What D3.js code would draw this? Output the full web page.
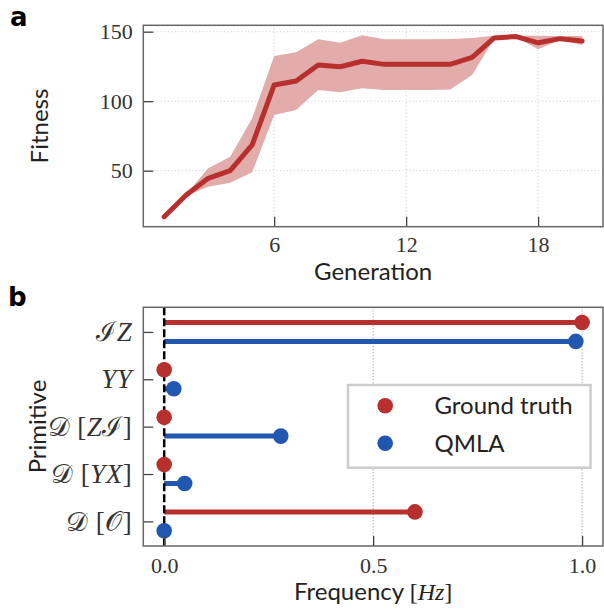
<!DOCTYPE html>
<html>
<head>
<meta charset="utf-8">
<script src="https://cdn.jsdelivr.net/npm/d3@7"></script>
<style>
  body { margin: 0; background: #fff; }
  .tick text { font-family: "Liberation Serif", serif; font-size: 22px; fill: #333; }
  .math .tick text { font-size: 27px; letter-spacing: 0.5px; }
  .lab { font-family: Lato, sans-serif; font-size: 24px; fill: #222; }
  .panel { font-family: "DejaVu Sans", sans-serif; font-weight: bold; font-size: 26px; fill: #000; }
</style>
</head>
<body>
<svg id="chart" width="604" height="608"></svg>
<script>
// panel a : fitness per generation
const generations = d3.range(1, 21);
const fitnessMean = [16.9, 32.5, 44.5, 50, 68.5, 111.7, 114.5, 126, 124.8, 128.7, 126.5, 126.5, 126.5, 126.5, 131.6, 145.5, 146.5, 142, 145, 143.3];
const fitnessUpper = [16.9, 33, 51.7, 60, 87.7, 132.5, 135.2, 144.5, 142, 147.4, 144.5, 144.5, 144.5, 144.7, 145.5, 147, 147.2, 147, 146.8, 147];
const fitnessLower = [16.9, 32, 38.5, 41.4, 48.8, 90, 93.7, 108, 106.4, 109.3, 108, 108, 108, 108.5, 118.8, 145, 146, 137.3, 144.1, 140.4];
const genTicks = [6, 12, 18];
const fitTicks = [50, 100, 150];

// panel b : primitive frequencies
const primitives = ['IZ', 'YY', 'D[ZI]', 'D[YX]', 'D[O]'];
const groundTruth = [1.0, 0, 0, 0, 0.6];
const qmla = [0.985, 0.023, 0.279, 0.049, 0];
const freqTicks = [0, 0.5, 1.0];

const red = '#b8302d', band = '#e2acab', blue = '#2157b0';
const svg = d3.select('#chart');

const L = 143.3, R = 603;

// ---------- panel a ----------
const ax = { top: 25.3, bottom: 226.7 };
const x = d3.scaleLinear().domain([0.05, 20.95]).range([L, R]);
const y = d3.scaleLinear().domain([9.7, 154.6]).range([ax.bottom, ax.top]);
const ga = svg.append('g');

ga.selectAll('.hg').data(fitTicks).join('line')
    .attr('x1', L).attr('x2', R)
    .attr('y1', d => y(d)).attr('y2', d => y(d))
    .attr('stroke', '#c8c8c8').attr('stroke-width', 1).attr('stroke-dasharray', '1,2.5');
ga.selectAll('.vg').data(genTicks).join('line')
    .attr('x1', d => x(d)).attr('x2', d => x(d))
    .attr('y1', ax.top).attr('y2', ax.bottom)
    .attr('stroke', '#c8c8c8').attr('stroke-width', 1).attr('stroke-dasharray', '1,2.5');

const rows = generations.map((g, i) => ({g: g, m: fitnessMean[i], lo: fitnessLower[i], hi: fitnessUpper[i]}));
ga.append('path').datum(rows)
    .attr('fill', band)
    .attr('d', d3.area().x(d => x(d.g)).y0(d => y(d.lo)).y1(d => y(d.hi)));
ga.append('path').datum(rows)
    .attr('fill', 'none').attr('stroke', red).attr('stroke-width', 5)
    .attr('stroke-linecap', 'round').attr('stroke-linejoin', 'round')
    .attr('d', d3.line().x(d => x(d.g)).y(d => y(d.m)));

ga.append('g').attr('transform', `translate(0,${ax.bottom})`)
    .call(d3.axisBottom(x).tickValues(genTicks).tickSize(-10).tickPadding(10).tickFormat(d3.format('d')))
    .call(g => g.select('.domain').remove())
    .call(g => g.selectAll('.tick line').attr('stroke', '#444').attr('stroke-width', 1.3));
ga.append('g').attr('transform', `translate(${L},0)`)
    .call(d3.axisLeft(y).tickValues(fitTicks).tickSize(-10).tickPadding(10.5))
    .call(g => g.select('.domain').remove())
    .call(g => g.selectAll('.tick line').attr('stroke', '#444').attr('stroke-width', 1.3));

ga.append('rect').attr('x', L).attr('y', ax.top).attr('width', R - L).attr('height', ax.bottom - ax.top)
    .attr('fill', 'none').attr('stroke', '#666').attr('stroke-width', 1.5);

ga.append('text').attr('class', 'lab').attr('x', (L + R) / 2).attr('y', 280)
    .attr('text-anchor', 'middle').text('Generation');
ga.append('text').attr('class', 'lab').attr('transform', 'translate(48,126) rotate(-90)')
    .attr('text-anchor', 'middle').text('Fitness');
svg.append('text').attr('class', 'panel').attr('x', 10).attr('y', 26).text('a');

// ---------- panel b ----------
const bx = { top: 307.3, bottom: 546 };
const x2 = d3.scaleLinear().domain([-0.05, 1.05]).range([L, R]);
const y2 = d3.scaleLinear().domain([-0.52, 4.52]).range([bx.top, bx.bottom]);
const gb = svg.append('g');

gb.selectAll('.vg').data(freqTicks.slice(1)).join('line')
    .attr('x1', d => x2(d)).attr('x2', d => x2(d))
    .attr('y1', bx.top).attr('y2', bx.bottom)
    .attr('stroke', '#888').attr('stroke-width', 1).attr('stroke-dasharray', '1,2');

const series = [
  {name: 'Ground truth', vals: groundTruth, color: red, off: -0.2},
  {name: 'QMLA', vals: qmla, color: blue, off: 0.2}
];
series.forEach(s => {
  gb.selectAll(null).data(s.vals).join('line')
      .attr('x1', x2(0)).attr('x2', d => x2(d))
      .attr('y1', (d, i) => y2(i + s.off)).attr('y2', (d, i) => y2(i + s.off))
      .attr('stroke', s.color).attr('stroke-width', 5);
});
gb.append('line').attr('x1', x2(0)).attr('x2', x2(0)).attr('y1', bx.top).attr('y2', bx.bottom)
    .attr('stroke', '#000').attr('stroke-width', 2.5).attr('stroke-dasharray', '8,3');
series.forEach(s => {
  gb.selectAll(null).data(s.vals).join('circle')
      .attr('cx', d => x2(d)).attr('cy', (d, i) => y2(i + s.off))
      .attr('r', 7.8).attr('fill', s.color);
});

gb.append('g').attr('transform', `translate(0,${bx.bottom})`)
    .call(d3.axisBottom(x2).tickValues(freqTicks).tickSize(-10).tickPadding(11).tickFormat(d3.format('.1f')))
    .call(g => g.select('.domain').remove())
    .call(g => g.selectAll('.tick line').attr('stroke', '#444').attr('stroke-width', 1.3));
const yAxis = gb.append('g').attr('class', 'math').attr('transform', `translate(${L},0)`)
    .call(d3.axisLeft(y2).tickValues(d3.range(primitives.length)).tickSize(-10).tickPadding(11).tickFormat(() => ''))
    .call(g => g.select('.domain').remove())
    .call(g => g.selectAll('.tick line').attr('stroke', '#444').attr('stroke-width', 1.3));

// math style tick labels: [text, style] pieces
const mathLabels = {
  'IZ': [['ℐ', 'cal'], ['Z', 'it']],
  'YY': [['Y', 'it'], ['Y', 'it']],
  'D[ZI]': [['𝒟', 'cal'], [' [', 'rm'], ['Z', 'it'], ['ℐ', 'cal'], [']', 'rm']],
  'D[YX]': [['𝒟', 'cal'], [' [', 'rm'], ['Y', 'it'], ['X', 'it'], [']', 'rm']],
  'D[O]': [['𝒟', 'cal'], [' [', 'rm'], ['𝒪', 'cal'], [']', 'rm']]
};
yAxis.selectAll('.tick text').each(function (d) {
  const t = d3.select(this).text(null);
  mathLabels[primitives[d]].forEach(p => {
    const ts = t.append('tspan').text(p[0]);
    if (p[1] === 'it') ts.style('font-style', 'italic');
  });
});

gb.append('rect').attr('x', L).attr('y', bx.top).attr('width', R - L).attr('height', bx.bottom - bx.top)
    .attr('fill', 'none').attr('stroke', '#666').attr('stroke-width', 1.5);

// legend
const lg = gb.append('g');
lg.append('rect').attr('x', 348).attr('y', 385).attr('width', 242.5).attr('height', 82.7)
    .attr('fill', '#fff').attr('stroke', '#ccc').attr('stroke-width', 2.5);
series.forEach((s, i) => {
  lg.append('circle').attr('cx', 385.2).attr('cy', 405.7 + i * 37.6).attr('r', 7.8).attr('fill', s.color);
  lg.append('text').attr('class', 'lab').attr('x', 434.5).attr('y', 405.7 + i * 37.6 + 8.7).text(s.name);
});

const xl = gb.append('text').attr('class', 'lab').attr('x', (L + R) / 2).attr('y', 600).attr('text-anchor', 'middle');
xl.append('tspan').text('Frequency ');
xl.append('tspan').style('font-family', '"Liberation Serif", serif').text('[');
xl.append('tspan').style('font-family', '"Liberation Serif", serif').style('font-style', 'italic').text('Hz');
xl.append('tspan').style('font-family', '"Liberation Serif", serif').text(']');
gb.append('text').attr('class', 'lab').attr('transform', 'translate(45.5,426.5) rotate(-90)')
    .attr('text-anchor', 'middle').text('Primitive');
svg.append('text').attr('class', 'panel').attr('x', 8).attr('y', 306).text('b');
</script>
</body>
</html>
